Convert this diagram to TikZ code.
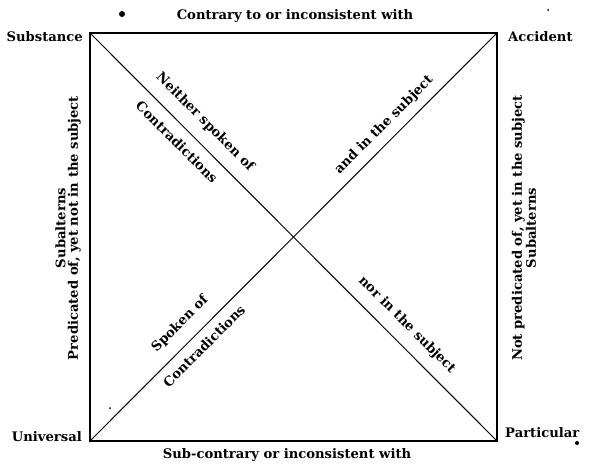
\documentclass[tikz,border=0pt]{standalone}
\usepackage{fontspec}
\setmainfont{DejaVu Serif}
\begin{document}
\begin{tikzpicture}[x=1bp,y=-1bp, every node/.style={font=\fontsize{13.2}{12.5}\selectfont\bfseries, inner sep=1pt}]
        \useasboundingbox (0,0) rectangle (593,464);
        % corners of the square
        \coordinate (tl) at (90,33);
        \coordinate (tr) at (497,33);
        \coordinate (br) at (497,441);
        \coordinate (bl) at (90,441);
        \draw[line width=1.3pt] (tl) -- (tr) -- (br) -- (bl) -- cycle;
        \draw[line width=1pt] (tl) -- (br);
        \draw[line width=1pt] (bl) -- (tr);
        % corner names
        \node[anchor=east] (subst) at (84,37){Substance};
        \node[anchor=west] (accid) at (507,37){Accident};
        \node[anchor=east] (univ) at (83,437){Universal};
        \node[anchor=west] (partic) at (504,433){Particular};
        % sides
        \node (contrary) at (295,16){Contrary to or inconsistent with};
        \node (subcontrary) at (287,455){Sub-contrary or inconsistent with};
        \node[rotate=90, align=center] (sidel) at (68,228){Subalterns\\Predicated of, yet not in the subject};
        \node[rotate=90, align=center] (sider) at (524,228){Not predicated of, yet in the subject\\Subalterns};
        % diagonals
        \node[rotate=-45] (neither) at (205,122){Neither spoken of};
        \node[rotate=-45] (contrup) at (177,142){Contradictions};
        \node[rotate=45] (andin) at (384,125){and in the subject};
        \node[rotate=45] (spoken) at (180,324){Spoken of};
        \node[rotate=45] (contrlow) at (204,346){Contradictions};
        \node[rotate=-45] (norin) at (407,325){nor in the subject};
        % specks
        \fill (122,14) circle (3);
        \fill (548,10) circle (1);
        \fill (110,408) circle (1);
        \fill (577,443) circle (2);
\end{tikzpicture}
\end{document}
